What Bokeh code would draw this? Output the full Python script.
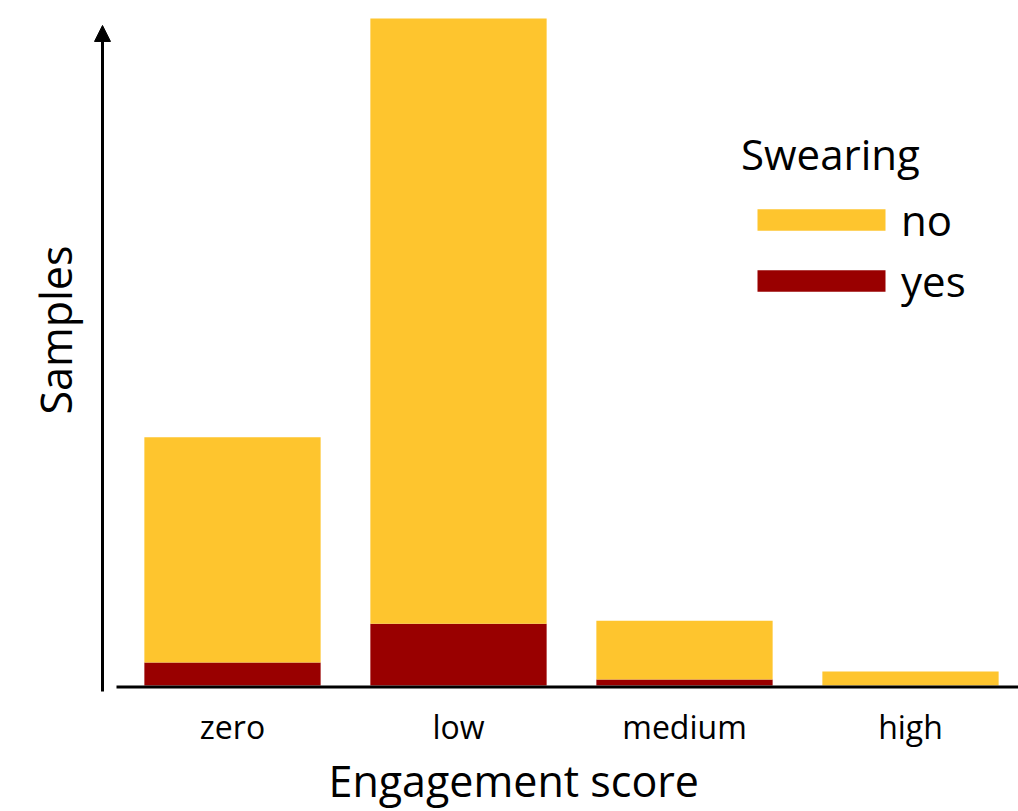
from bokeh.plotting import figure
from bokeh.models import (Range1d, FixedTicker, Arrow, NormalHead, Legend,
                          LegendItem, ColumnDataSource, Title)
from bokeh.embed import file_html
from bokeh.resources import INLINE

categories = ["zero", "low", "medium", "high"]
no_vals = [226, 607, 59, 14]
yes_vals = [23, 62, 6, 0]
series = ["yes", "no"]
legend_title = "Swearing"
x_label = "Engagement score"
y_label = "Samples"

YELLOW = "#FEC52E"
RED = "#990000"
FONT = "Open Sans"

x_pos = list(range(len(categories)))
src = ColumnDataSource(dict(x=x_pos, yes=yes_vals, no=no_vals))

px_per_cat = 226.0
x_start = -140.0 / px_per_cat
x_end = x_start + 926.0 / px_per_cat
y_start, y_end = -8, 677

p = figure(width=1018, height=811, output_backend="svg", toolbar_location=None,
           x_range=Range1d(x_start, x_end), y_range=Range1d(y_start, y_end),
           min_border_left=92, min_border_right=0, min_border_top=10,
           min_border_bottom=116)
p.outline_line_color = None
p.grid.visible = False
p.background_fill_color = "white"

rs = p.vbar_stack(series, x="x", width=0.78, color=[RED, YELLOW],
                  line_color=None, source=src)

# x axis (tick labels only)
xa = p.xaxis[0]
xa.ticker = FixedTicker(ticks=x_pos)
xa.major_label_overrides = {i: c for i, c in zip(x_pos, categories)}
xa.axis_line_color = None
xa.major_tick_line_color = None
xa.minor_tick_line_color = None
xa.major_tick_out = 0
xa.major_tick_in = 0
xa.major_label_text_font = FONT
xa.major_label_text_font_size = "32px"
xa.major_label_text_color = "black"
xa.major_label_standoff = 11

p.yaxis.visible = False

# axis titles
p.add_layout(Title(text=x_label, align="left", offset=236, vertical_align="top",
                   standoff=0, text_font=FONT, text_font_size="43px",
                   text_font_style="normal", text_color="black"), "below")
p.add_layout(Title(text=y_label, align="right", offset=235, vertical_align="bottom",
                   standoff=16, text_font=FONT, text_font_size="43px",
                   text_font_style="normal", text_color="black"), "left")

# drawn axis lines
ax_x = x_start + 10.0 / px_per_cat
p.add_layout(Arrow(end=NormalHead(size=16, fill_color="black", line_color="black", line_width=1),
                   x_start=ax_x, y_start=y_start + 2, x_end=ax_x, y_end=y_end - 15,
                   line_width=3, line_color="black"))
p.segment(x0=[x_start + 24.0 / px_per_cat], y0=[-1.5], x1=[x_end], y1=[-1.5],
          line_width=3, line_color="black")

legend = Legend(items=[LegendItem(label=series[1], renderers=[rs[1]]),
                       LegendItem(label=series[0], renderers=[rs[0]])],
                title=legend_title, location=(649, 384))
legend.title_text_font = FONT
legend.title_text_font_size = "42px"
legend.title_text_font_style = "normal"
legend.title_text_color = "black"
legend.label_text_font = FONT
legend.label_text_font_size = "42px"
legend.label_text_color = "black"
legend.glyph_width = 160
legend.glyph_height = 27
legend.label_height = 27
legend.label_standoff = 0
legend.spacing = 4
legend.padding = 0
legend.margin = 0
legend.border_line_color = None
legend.background_fill_alpha = 0
legend.title_standoff = 9
p.add_layout(legend)

open("out.html", "w").write(file_html(p, INLINE))
